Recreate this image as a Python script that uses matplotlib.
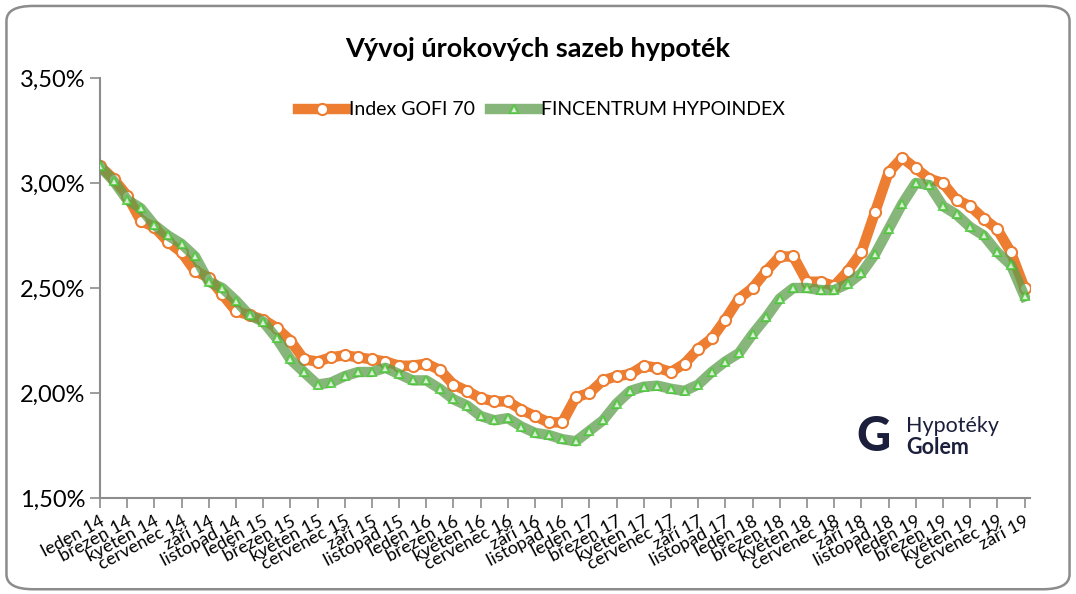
import matplotlib.pyplot as plt
from matplotlib.patches import FancyBboxPatch

plt.rcParams['font.family'] = ['Lato', 'DejaVu Sans']

# monthly values, leden 14 .. září 19
gofi = [3.08, 3.02, 2.94, 2.82, 2.79, 2.72, 2.67, 2.58, 2.55, 2.47,
        2.39, 2.37, 2.35, 2.31, 2.25, 2.16, 2.15, 2.17, 2.18, 2.17,
        2.16, 2.15, 2.13, 2.13, 2.14, 2.11, 2.04, 2.01, 1.975, 1.96,
        1.96, 1.92, 1.89, 1.86, 1.86, 1.98, 2.00, 2.06, 2.08, 2.09,
        2.13, 2.12, 2.10, 2.14, 2.21, 2.26, 2.35, 2.45, 2.50, 2.58,
        2.65, 2.65, 2.53, 2.53, 2.51, 2.58, 2.67, 2.86, 3.05, 3.12,
        3.07, 3.02, 3.00, 2.92, 2.89, 2.83, 2.78, 2.67, 2.50]
fincentrum = [3.08, 3.01, 2.92, 2.88, 2.80, 2.75, 2.71, 2.65, 2.53, 2.50,
              2.44, 2.37, 2.34, 2.26, 2.16, 2.10, 2.04, 2.05, 2.08, 2.10,
              2.10, 2.12, 2.09, 2.06, 2.06, 2.02, 1.97, 1.94, 1.89, 1.87,
              1.88, 1.84, 1.81, 1.80, 1.78, 1.77, 1.82, 1.87, 1.95, 2.01,
              2.03, 2.035, 2.02, 2.01, 2.04, 2.10, 2.15, 2.19, 2.28, 2.36,
              2.45, 2.50, 2.50, 2.49, 2.49, 2.52, 2.57, 2.66, 2.78, 2.90,
              3.00, 2.99, 2.89, 2.85, 2.79, 2.75, 2.67, 2.61, 2.46]
months = ["leden", "březen", "květen", "červenec", "září", "listopad"]
years = ["14", "15", "16", "17", "18", "19"]
y_ticks = [1.5, 2.0, 2.5, 3.0, 3.5]

x = list(range(len(gofi)))
tick_pos = list(range(0, len(gofi), 2))
tick_labels = [f"{months[(p // 2) % 6]} {years[p // 12]}" for p in tick_pos]

fig = plt.figure(figsize=(10.76, 5.94), dpi=100)
fig.patches.append(FancyBboxPatch(
    (0.006, 0.008), 0.988, 0.982, boxstyle="round,pad=0,rounding_size=0.025",
    transform=fig.transFigure, facecolor="none", edgecolor="#8c8c8c",
    linewidth=1.8, zorder=-10))

ax = fig.add_axes([0.0929, 0.1616, 0.8643, 0.7071])
ax.patch.set_alpha(0)

ax.plot(x, gofi, color="#ED7D31", linewidth=7.5, marker="o", markersize=8,
        markerfacecolor="white", markeredgecolor="#ED7D31", markeredgewidth=1.5,
        solid_joinstyle="round", label="Index GOFI 70", zorder=2)
ax.plot(x, fincentrum, color="#5e9e4c", alpha=0.75, linewidth=7.5, marker="^",
        markersize=6, markerfacecolor="white", markeredgecolor="#3fc72c",
        markeredgewidth=1.4, solid_joinstyle="round",
        label="FINCENTRUM HYPOINDEX", zorder=3)

ax.set_xlim(0, 68.4)
ax.set_ylim(1.5, 3.5)
ax.set_yticks(y_ticks)
ax.set_yticklabels([f"{v:.2f}%".replace(".", ",") for v in y_ticks], fontsize=17)
ax.set_xticks(tick_pos)
ax.set_xticklabels(tick_labels, rotation=28, ha="right", rotation_mode="anchor",
                   fontsize=13)

for side in ["top", "right"]:
    ax.spines[side].set_visible(False)
for side in ["left", "bottom"]:
    ax.spines[side].set_color("#8c8c8c")
    ax.spines[side].set_linewidth(1.5)
ax.tick_params(axis="both", direction="out", length=7, width=1.2, color="#8c8c8c")
ax.tick_params(axis="x", pad=4)

fig.text(0.5, 0.918, "Vývoj úrokových sazeb hypoték", ha="center", va="center",
         fontsize=19.5, fontweight="bold")

fig.legend(loc="center", bbox_to_anchor=(0.503, 0.815), ncol=2, frameon=False,
           fontsize=14, handlelength=2.5, columnspacing=0.8, handletextpad=0.1)

# logo
fig.text(0.812, 0.265, "G", fontsize=34, fontweight="black", color="#1b1f3b",
         ha="center", va="center")
fig.text(0.842, 0.283, "Hypotéky", fontsize=15.5, color="#1b1f3b", va="center")
fig.text(0.842, 0.247, "Golem", fontsize=15.5, fontweight="bold", color="#1b1f3b",
         va="center")

fig.savefig("out.png", dpi=100)
